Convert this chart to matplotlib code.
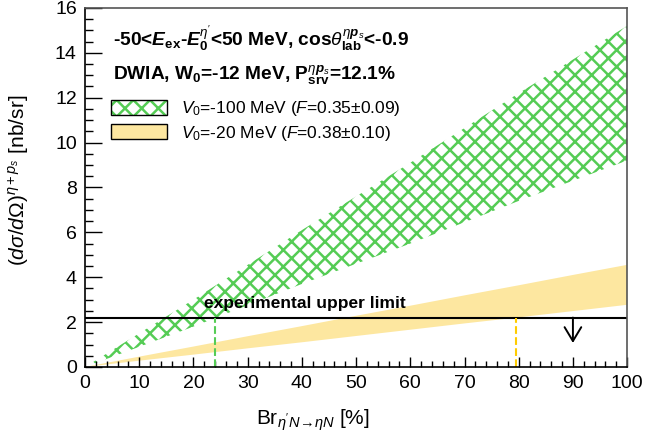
import numpy as np
import matplotlib
matplotlib.use("Agg")
import matplotlib.pyplot as plt
from matplotlib.patches import Patch
from matplotlib.legend_handler import HandlerTuple

# -------------------------
# Data
# -------------------------
br = [0, 10, 20, 30, 40, 50, 60, 70, 80, 90, 100]

green_low = [0.0, 0.9, 1.8, 2.75, 3.7, 4.6, 5.5, 6.45, 7.4, 8.3, 9.2]
green_high = [0.0, 1.5, 3.0, 4.55, 6.1, 7.6, 9.1, 10.65, 12.2, 13.7, 15.2]

yellow_low = [0.0, 0.28, 0.55, 0.83, 1.1, 1.38, 1.66, 1.94, 2.21, 2.49, 2.77]
yellow_high = [0.0, 0.46, 0.91, 1.37, 1.82, 2.28, 2.73, 3.19, 3.64, 4.1, 4.55]

upper_limit = 2.2
green_cross = 24.0
yellow_cross = 79.5
arrow_x = 90
arrow_end = 1.07

labels = [r"$V_0$=-100 MeV ($F$=0.35$\pm$0.09)",
          r"$V_0$=-20 MeV ($F$=0.38$\pm$0.10)"]

GREEN = "#55cc55"
YELLOW_FILL = "#fde7a0"
YELLOW = "#ffcc00"

# -------------------------
# Style
# -------------------------
plt.rcParams["font.family"] = ["Liberation Sans", "DejaVu Sans"]
plt.rcParams["mathtext.fontset"] = "custom"
plt.rcParams["mathtext.rm"] = "Liberation Sans"
plt.rcParams["mathtext.it"] = "Liberation Sans:italic"
plt.rcParams["mathtext.bf"] = "Liberation Sans:bold"
plt.rcParams["mathtext.bfit"] = "Liberation Sans:italic:bold"
plt.rcParams["hatch.linewidth"] = 1.8

fig = plt.figure(figsize=(6.7, 4.4), dpi=100)
ax = fig.add_axes([0.127, 0.166, 0.809, 0.816])

# bands
ax.fill_between(br, green_low, green_high, facecolor="none",
                edgecolor=GREEN, hatch="xx", linewidth=0)
ax.fill_between(br, yellow_low, yellow_high, facecolor=YELLOW_FILL,
                linewidth=0)

# upper limit line + markers
ax.axhline(upper_limit, color="black", lw=1.5)
ax.plot([green_cross, green_cross], [0, upper_limit], ls="--", color=GREEN, lw=1.5)
ax.plot([yellow_cross, yellow_cross], [0, upper_limit], ls="--", color=YELLOW, lw=1.5)
ax.annotate("", xy=(arrow_x, arrow_end), xytext=(arrow_x, upper_limit),
            arrowprops=dict(arrowstyle="->,head_length=0.5,head_width=0.3",
                            lw=1.4, color="black", mutation_scale=20,
                            shrinkA=0, shrinkB=0))
ax.text(40.5, 2.85, "experimental upper limit", fontsize=12.5,
        fontweight="bold", ha="center", va="center")

# header texts
ax.text(0.052, 0.916,
        r"-50<$\mathbfit{E}_{\mathbf{ex}}$-$\mathbfit{E}_{\mathbf{0}}^{\eta'}$"
        r"<50 MeV, cos$\theta_{\mathbf{lab}}^{\eta\mathbfit{p}_s}$<-0.9",
        transform=ax.transAxes, fontsize=13.8, fontweight="bold", va="center")
ax.text(0.052, 0.813,
        r"DWIA, W$_{\mathbf{0}}$=-12 MeV, P$_{\mathbf{srv}}^{\eta\mathbfit{p}_s}$=12.1%",
        transform=ax.transAxes, fontsize=13.8, fontweight="bold", va="center")

h_green = (Patch(facecolor="white", edgecolor=GREEN, hatch="xx", lw=0),
           Patch(facecolor="none", edgecolor="black", lw=1.0))
h_yellow = (Patch(facecolor=YELLOW_FILL, edgecolor="black", lw=1.0),)
leg = ax.legend([h_green, h_yellow], labels, loc="upper left",
                bbox_to_anchor=(0.048, 0.745), frameon=False, fontsize=12.5,
                handlelength=3.2, handleheight=0.9, handletextpad=0.85,
                labelspacing=0.3, borderaxespad=0, borderpad=0,
                handler_map={tuple: HandlerTuple(ndivide=1)})

# axes
ax.set_xlim(0, 100)
ax.set_ylim(0, 16)
ax.set_xticks(np.arange(0, 101, 10))
ax.set_xticks(np.arange(0, 101, 2), minor=True)
ax.set_yticks(np.arange(0, 17, 2))
ax.set_yticks(np.arange(0, 16.1, 0.5), minor=True)
ax.tick_params(axis="both", which="both", direction="in", labelsize=14,
               top=False, right=False)
ax.tick_params(axis="x", which="major", length=7.5, width=1.0, pad=6)
ax.tick_params(axis="x", which="minor", length=4, width=1.0)
ax.tick_params(axis="y", which="major", length=12, width=1.0, pad=6)
ax.tick_params(axis="y", which="minor", length=6, width=1.0)
for s in ["left", "bottom"]:
    ax.spines[s].set_linewidth(1.2)
for s in ["top", "right"]:
    ax.spines[s].set_color("#555555")
    ax.spines[s].set_linewidth(1.2)

ax.set_xlabel(r"Br$_{\eta' N\!\rightarrow\!\eta N}$ [%]", fontsize=15)
ax.xaxis.set_label_coords(0.42, -0.112)
ax.set_ylabel(r"$(d\sigma/d\Omega)^{\eta+p_s}$ [nb/sr]", fontsize=15)
ax.yaxis.set_label_coords(-0.1, 0.52)

fig.savefig("out.png", dpi=100)
